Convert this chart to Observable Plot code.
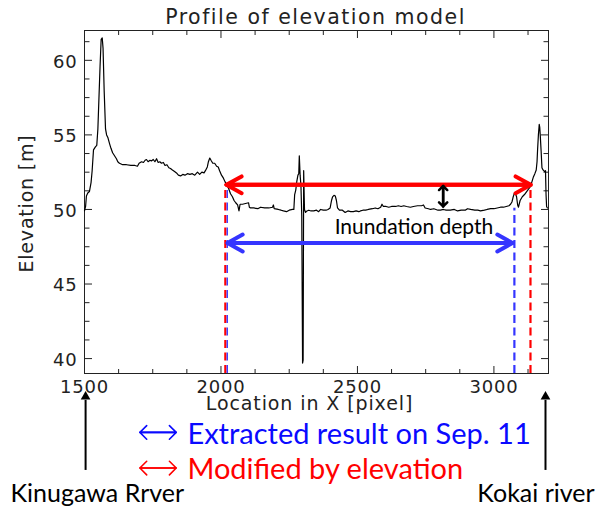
<!DOCTYPE html>
<html><head><meta charset="utf-8">
<script src="https://cdn.jsdelivr.net/npm/d3@7"></script>
<script src="https://cdn.jsdelivr.net/npm/@observablehq/plot@0.6"></script>
<style>html,body{margin:0;padding:0;background:#fff} svg{display:block}</style>
</head><body><div id="chart"></div>
<script>
// Profile data: location in X [pixel] and elevation [m]
const pixelX = [1500,1504,1507,1512,1518,1524,1528,1533,1540,1545,1549,1553,1557,1561,1565,1568,1572,1577,1581,1586,1592,1597,1603,1610,1617,1622,1628,1640,1654,1670,1685,1694,1700,1709,1716,1722,1727,1733,1740,1745,1752,1758,1764,1770,1776,1782,1789,1795,1802,1809,1815,1822,1830,1837,1844,1852,1860,1868,1877,1886,1895,1904,1914,1922,1930,1938,1943,1950,1954,1959,1965,1970,1977,1984,1990,1995,2002,2009,2015,2020,2028,2035,2042,2048,2054,2061,2066,2070,2079,2090,2101,2104,2108,2120,2135,2145,2160,2175,2189,2192,2195,2210,2220,2229,2240,2250,2262,2267,2270,2274,2278,2282,2285,2287,2290,2293,2296,2299,2301,2303,2306,2310,2315,2322,2330,2340,2350,2358,2365,2375,2385,2392,2400,2405,2409,2414,2419,2423,2427,2434,2445,2455,2465,2475,2485,2495,2505,2511,2520,2530,2540,2555,2565,2575,2585,2590,2595,2605,2615,2625,2640,2650,2660,2670,2680,2694,2705,2720,2735,2742,2748,2760,2768,2780,2795,2804,2815,2825,2840,2855,2867,2880,2895,2903,2915,2930,2941,2951,2965,2975,2988,3000,3012,3024,3035,3045,3055,3061,3066,3070,3075,3080,3083,3087,3090,3096,3104,3112,3120,3128,3134,3140,3145,3150,3155,3158,3160,3163,3166,3168,3170,3173,3176,3180,3185,3189,3191,3193,3196];
const elevation = [49.9,50.2,50.9,51.1,51.2,51.8,52.6,54.0,54.2,54.3,55.4,57.5,59.6,61.4,61.5,60.8,58.0,55.4,55.0,54.8,54.4,54.1,53.8,53.6,53.4,53.2,53.1,53.0,53.0,52.95,52.95,52.9,53.1,53.2,53.15,53.3,53.35,53.2,53.3,53.25,53.35,53.2,53.4,53.15,53.2,53.1,53.15,52.95,53.0,52.8,52.75,52.65,52.55,52.45,52.3,52.25,52.35,52.3,52.4,52.35,52.4,52.3,52.5,52.35,52.5,52.45,52.6,52.85,53.2,53.45,53.25,53.1,53.1,52.9,52.85,52.6,52.3,52.1,51.85,51.7,51.4,51.05,50.85,50.6,50.45,50.3,49.9,50.35,50.35,50.4,50.45,50.15,50.1,50.1,50.05,50.15,50.1,50.1,50.15,50.3,50.05,50.0,49.95,49.9,49.85,49.95,50.0,50.0,51.0,51.3,51.9,52.3,52.4,53.6,52.3,51.6,49.6,39.7,39.9,52.6,50.0,49.8,49.9,49.95,49.9,49.9,49.95,49.85,50.0,49.95,49.95,50.0,50.1,50.6,50.85,50.95,50.9,50.6,50.1,49.95,49.95,49.8,49.9,49.85,49.85,49.9,49.85,49.9,49.95,49.95,50.0,50.05,50.1,50.05,50.15,50.35,50.2,50.2,50.15,50.2,50.2,50.25,50.2,50.25,50.2,50.15,50.2,50.25,50.25,50.3,50.1,50.05,50.0,50.05,49.95,49.95,50.0,49.95,49.95,50.0,49.9,49.95,49.95,50.05,50.0,49.95,49.95,49.9,49.95,50.0,50.05,50.05,50.1,50.15,50.15,50.2,50.25,50.35,50.5,50.8,51.1,51.0,50.85,50.3,50.15,50.6,50.85,51.0,51.2,51.4,51.55,51.9,52.2,52.4,52.65,53.2,54.0,55.0,55.7,55.5,54.9,53.9,52.8,52.65,52.55,52.6,51.0,50.2,50.1];

const xTicks = [1500, 2000, 2500, 3000];
const xMinorTicks = [1625, 1750, 1875, 2125, 2250, 2375, 2625, 2750, 2875, 3125];
const yTicks = [40, 45, 50, 55, 60];
const yMinorTicks = [41.25, 42.5, 43.75, 46.25, 47.5, 48.75, 51.25, 52.5, 53.75, 56.25, 57.5, 58.75, 61.25];

const titleText = ["Profile of elevation model"];
const xLabel = ["Location in X [pixel]"];
const yLabel = ["Elevation [m]"];

// Annotation extents (location in X, elevation)
const modifiedSpan = [2020, 3135];   // red: modified by elevation
const modifiedLevel = [51.65];
const extractedSpan = [2024, 3068];  // blue: extracted result
const extractedLevel = [47.75];
const depthMarker = [2814];
const depthRange = [50.2, 51.58];
const annotationText = ["Inundation depth"];
const legendLabels = ["Extracted result on Sep. 11", "Modified by elevation"];
const riverLabels = ["Kinugawa Rrver", "Kokai river"];
const riverX = [1504, 3189];

const RED = "#ff0000", BLUE = "#3535ff", TXTBLUE = "#0a0aff";
const hershey = "DejaVu Sans";
const calibri = "Lato";

const tickMarks = (ticks, len) => [
  Plot.axisX(ticks, {anchor: "bottom", tickSize: -len, tickFormat: () => "", stroke: "#222"}),
  Plot.axisX(ticks, {anchor: "top", tickSize: -len, tickFormat: () => "", stroke: "#222"})
];
const tickMarksY = (ticks, len) => [
  Plot.axisY(ticks, {anchor: "left", tickSize: -len, tickFormat: () => "", stroke: "#222"}),
  Plot.axisY(ticks, {anchor: "right", tickSize: -len, tickFormat: () => "", stroke: "#222"})
];

const biArrow = (a, b, opts) => [
  Plot.arrow([0], {...a, ...opts}),
  Plot.arrow([0], {...b, ...opts})
];

const chart = Plot.plot({
  width: 596, height: 511,
  marginLeft: 84, marginRight: 48, marginTop: 30, marginBottom: 138,
  x: {domain: [1500, 3200]},
  y: {domain: [39, 62]},
  style: {fontFamily: hershey, fontSize: "18px", color: "#222", background: "white", overflow: "visible"},
  marks: [
    ...tickMarks(xTicks, 7), ...tickMarks(xMinorTicks, 4),
    ...tickMarksY(yTicks, 8), ...tickMarksY(yMinorTicks, 5.5),
    Plot.axisX(xTicks, {anchor: "bottom", tickSize: 0, tickPadding: 7, label: null, tickFormat: d => String(d), fontSize: 18, fill: "#222"}),
    Plot.axisY(yTicks, {anchor: "left", tickSize: 0, tickPadding: 7, dy: 1.5, label: null, tickFormat: d => String(d), fontSize: 18, fill: "#222"}),
    Plot.frame({stroke: "#222"}),
    Plot.ruleX([modifiedSpan[0] - 4], {y1: 39, y2: modifiedLevel[0], stroke: RED, strokeWidth: 2.2, strokeDasharray: "8,4.5"}),
    Plot.ruleX([extractedSpan[0] - 1], {y1: 39, y2: modifiedLevel[0], stroke: BLUE, strokeWidth: 1.4, strokeDasharray: "8,4.5"}),
    Plot.ruleX([extractedSpan[1] + 7], {y1: 39, y2: 50.08, stroke: BLUE, strokeWidth: 2.2, strokeDasharray: "8,4.5"}),
    Plot.ruleX([modifiedSpan[1] - 1], {y1: 39, y2: modifiedLevel[0], stroke: RED, strokeWidth: 2.2, strokeDasharray: "8,4.5"}),
    Plot.line(elevation, {x: pixelX, y: elevation, stroke: "#000", strokeWidth: 1.2}),
    ...biArrow({x1: modifiedSpan[0], x2: modifiedSpan[1]}, {x1: modifiedSpan[1], x2: modifiedSpan[0]},
      {y: modifiedLevel[0], stroke: RED, strokeWidth: 4, headLength: 6.5, headAngle: 58}),
    ...biArrow({x1: extractedSpan[0], x2: extractedSpan[1]}, {x1: extractedSpan[1], x2: extractedSpan[0]},
      {y: extractedLevel[0], stroke: BLUE, strokeWidth: 4, headLength: 6.5, headAngle: 58}),
    ...biArrow({y1: depthRange[0], y2: depthRange[1]}, {y1: depthRange[1], y2: depthRange[0]},
      {x: depthMarker[0], stroke: "#000", strokeWidth: 2.5, headLength: 3.5, headAngle: 90}),
    Plot.text(annotationText, {text: d => d, x: 2707, y: 48.78, fontFamily: calibri, fontSize: 21, fill: "#000"}),
    Plot.text(titleText, {text: d => d, frameAnchor: "top", lineAnchor: "bottom", textAnchor: "middle", dy: -7, dx: -1, fontSize: 20.5, fill: "#222"}),
    Plot.text(xLabel, {text: d => d, frameAnchor: "bottom", dy: 22.5, dx: -7, lineAnchor: "top", textAnchor: "middle", fontSize: 19, fill: "#222"}),
    Plot.text(yLabel, {text: d => d, frameAnchor: "left", rotate: -90, lineAnchor: "bottom", textAnchor: "middle", dx: -52, dy: 1.5, fontSize: 19, fill: "#222"}),
    ...biArrow({x1: 1703, x2: 1836}, {x1: 1836, x2: 1703}, {y: 35.05, stroke: TXTBLUE, strokeWidth: 1.6, headLength: 9, headAngle: 90}),
    ...biArrow({x1: 1703, x2: 1836}, {x1: 1836, x2: 1703}, {y: 32.66, stroke: RED, strokeWidth: 1.6, headLength: 9, headAngle: 90}),
    Plot.text([legendLabels[0]], {text: d => d, x: 1877, y: 34.3, textAnchor: "start", lineAnchor: "bottom", fontFamily: calibri, fontSize: 29, fill: TXTBLUE}),
    Plot.text([legendLabels[1]], {text: d => d, x: 1877, y: 31.95, textAnchor: "start", lineAnchor: "bottom", fontFamily: calibri, fontSize: 29, fill: RED}),
    Plot.ruleX(riverX, {y1: 32.5, y2: 37.2, stroke: "#000", strokeWidth: 2}),
    Plot.dot(riverX, {x: d => d, y: 37.45, symbol: "triangle", r: 3.6, fill: "#000", stroke: null}),
    Plot.text([riverLabels[0]], {text: d => d, x: 1229, y: 30.36, textAnchor: "start", lineAnchor: "bottom", fontFamily: calibri, fontSize: 25, fill: "#000"}),
    Plot.text([riverLabels[1]], {text: d => d, x: 3369, y: 30.36, textAnchor: "end", lineAnchor: "bottom", fontFamily: calibri, fontSize: 25, fill: "#000"})
  ]
});
// wider letter spacing to mimic the plotting-package vector font
const spacing = new Map([[titleText[0], 1.5], [xLabel[0], 0.9], [yLabel[0], 0.8]]);
d3.select(chart).selectAll("text").each(function () {
  const t = this.textContent;
  if (spacing.has(t)) this.setAttribute("letter-spacing", spacing.get(t));
  else if (/^\d+$/.test(t)) this.setAttribute("letter-spacing", 0.8);
});
document.getElementById("chart").appendChild(chart);
</script>
</body></html>
